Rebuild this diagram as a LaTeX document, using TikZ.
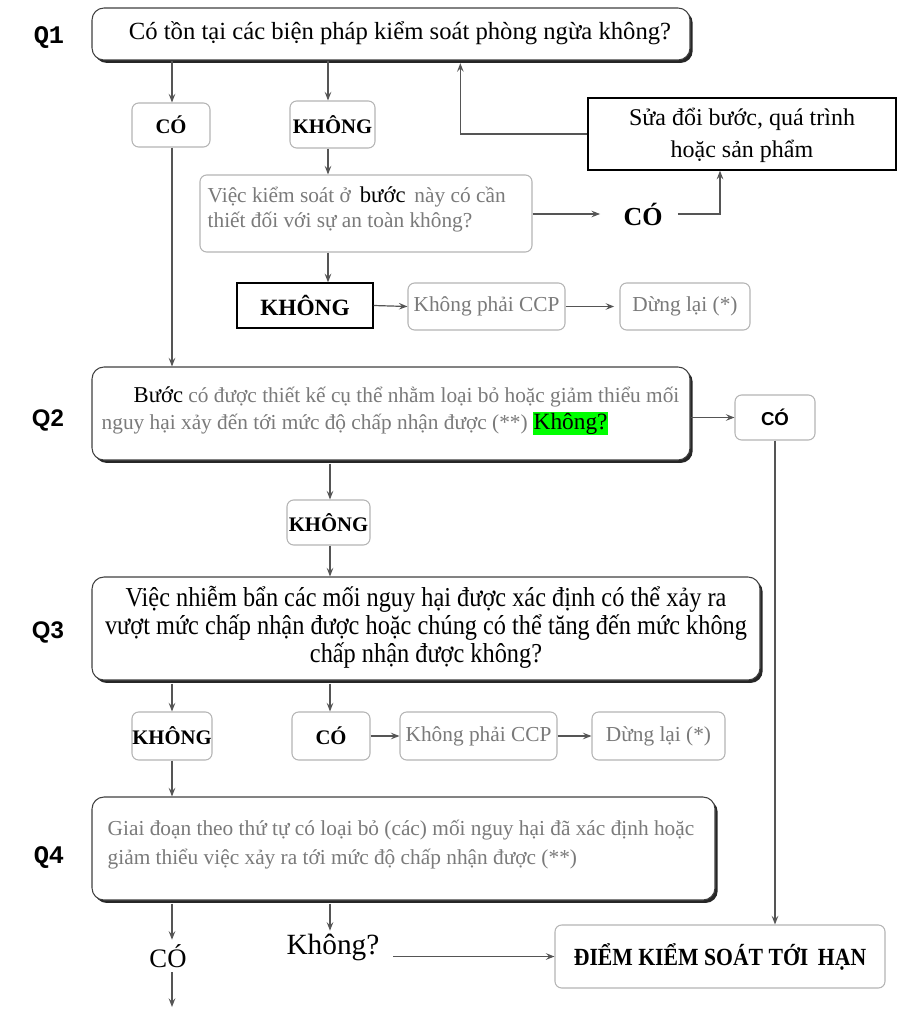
\documentclass[tikz,border=0pt]{standalone}
\usepackage{fontspec}
\setmainfont{Liberation Serif}
\newfontfamily\qsans{Liberation Sans}
\newfontfamily\qmono{Liberation Mono}
\newfontfamily\condserif[FakeStretch=0.89]{Liberation Serif}
\newfontfamily\condbold[FakeStretch=0.88]{Liberation Serif}
\usetikzlibrary{arrows.meta,shadows,fit}
\definecolor{gtext}{HTML}{7A7A7A}
\definecolor{gline}{HTML}{B4B4B4}
\definecolor{arrc}{HTML}{555555}
\definecolor{hlgreen}{HTML}{00FF00}
\tikzset{
  qbox/.style={draw=black!75, line width=0.8pt, rounded corners=9pt, fill=white, inner sep=0pt,
    drop shadow={shadow xshift=2pt, shadow yshift=-2.2pt, fill=black!85, opacity=1}},
  gbox/.style={draw=gline, line width=0.8pt, rounded corners=5pt, fill=white, inner sep=0pt},
  bbox/.style={draw=black, line width=1pt, fill=white, inner sep=0pt},
  arr/.style={draw=arrc, line width=0.9pt, -{Stealth[length=6.5pt,width=5pt,inset=2.5pt]}},
  bl/.style={font=\fontsize{15.5}{18}\selectfont\bfseries},
  gt/.style={text=gtext, font=\fontsize{16}{22}\selectfont},
  ql/.style={font=\qsans\fontsize{18}{20}\selectfont\bfseries},
}
\begin{document}
\begin{tikzpicture}[x=0.75pt,y=-0.75pt]
\useasboundingbox (0,0) rectangle (897,1009);
% labels
\node[ql,font=\qmono\fontsize{19}{20}\selectfont\bfseries] (lq1) at (49,38) {Q1};
\node[ql] (lq2) at (48,420) {Q2};
\node[ql] (lq3) at (48,632) {Q3};
\node[ql,font=\qmono\fontsize{19}{20}\selectfont\bfseries] (lq4) at (49,858) {Q4};

% Q1
\node[qbox, fit={(92,8) (690,60)}] (Q1) {};
\node[font=\fontsize{18.5}{21}\selectfont] (Q1t) at (400,33) {Có tồn tại các biện pháp kiểm soát phòng ngừa không?};
\node[gbox, fit={(132,103) (210,147)}] (co1) {};
\node[bl] at (co1) {CÓ};
\node[gbox, fit={(290,101) (375,148)}] (kh1) {};
\node[bl] at (kh1) {KHÔNG};
\node[gbox, fit={(200,175) (532,252)}] (q1b) {};
\node[gt, anchor=north west, align=left] (q1bt) at (203,182)
  {Việc kiểm soát ở \,{\color{black}\fontsize{17}{18}\selectfont bước}\, này có cần\\[-3pt] thiết đối với sự an toàn không?};
\node[font=\fontsize{19.5}{20}\selectfont\bfseries, minimum width=52pt, minimum height=20pt] (coyes) at (643,214) {CÓ};
\node[bbox, fit={(588,98) (896,170)}] (mod) {};
\node[align=center, font=\fontsize{18}{24}\selectfont] (modt) at (742,135) {Sửa đổi bước, quá trình\\hoặc sản phẩm};
\node[bbox, fit={(237,283) (373,328)}] (kh1b) {};
\node[font=\fontsize{17.5}{20}\selectfont\bfseries] at (kh1b) {KHÔNG};
\node[gbox, fit={(408,283) (565,330)}] (ncc1) {};
\node[gt] at (ncc1) {Không phải CCP};
\node[gbox, fit={(620,283) (750,330)}] (stop1) {};
\node[gt] at (stop1) {Dừng lại (*)};

% Q2
\node[qbox, fit={(92,367) (690,460)}] (Q2) {};
\node[gt, anchor=north west, align=left] (Q2t) at (97,382)
  {\hspace*{24pt}{\color{black}\fontsize{17}{18}\selectfont Bước} có được thiết kế cụ thể nhằm loại bỏ hoặc giảm thiểu mối\\[-2pt]
   nguy hại xảy đến tới mức độ chấp nhận được (**) {\setlength\fboxsep{0.5pt}\colorbox{hlgreen}{\color{black}\fontsize{17.5}{18}\selectfont Không?}}};
\node[gbox, fit={(735,395) (815,440)}] (co2) {};
\node[font=\qsans\fontsize{14}{16}\selectfont\bfseries] at (co2) {CÓ};
\node[gbox, fit={(287,500) (370,545)}] (kh2) {};
\node[bl] at (kh2) {KHÔNG};

% Q3
\node[qbox, fit={(92,577) (760,680)}] (Q3) {};
\node[align=center, font=\condserif\fontsize{20.5}{21}\selectfont] (Q3t) at (426,627)
  {Việc nhiễm bẩn các mối nguy hại được xác định có thể xảy ra\\
   vượt mức chấp nhận được hoặc chúng có thể tăng đến mức không\\
   chấp nhận được không?};
\node[gbox, fit={(132,712) (212,760)}] (kh3) {};
\node[bl] at (kh3) {KHÔNG};
\node[gbox, fit={(292,712) (370,760)}] (co3) {};
\node[bl] at (co3) {CÓ};
\node[gbox, fit={(400,712) (557,760)}] (ncc2) {};
\node[gt] at (ncc2) {Không phải CCP};
\node[gbox, fit={(592,712) (725,760)}] (stop2) {};
\node[gt] at (stop2) {Dừng lại (*)};

% Q4
\node[qbox, fit={(92,797) (715,900)}] (Q4) {};
\node[gt, anchor=north west, align=left] (Q4t) at (103,815)
  {Giai đoạn theo thứ tự có loại bỏ (các) mối nguy hại đã xác định hoặc\\
   giảm thiểu việc xảy ra tới mức độ chấp nhận được (**)};
\node[font=\fontsize{20}{20}\selectfont, minimum width=45pt, minimum height=30pt] (co4) at (168,956) {CÓ};
\node[font=\fontsize{22}{22}\selectfont, inner sep=2pt] (kh4) at (333,947) {Không?};
\node[gbox, fit={(555,925) (885,988)}] (ccp) {};
\node[font=\condbold\fontsize{18.5}{20}\selectfont\bfseries] at (ccp) {ĐIỂM KIỂM SOÁT TỚI \,HẠN};
\coordinate (endp) at (172,1007);

% connectors
\draw[arr] (Q1.south -| 172,0) -- (co1.north -| 172,0);
\draw[arr] (Q1.south -| 328,0) -- (kh1.north -| 328,0);
\draw[arr] (co1.south -| 172,0) -- (Q2.north -| 172,0);
\draw[arr] (kh1.south -| 328,0) -- (q1b.north -| 328,0);
\draw[arr, shorten >=6pt] (q1b.east |- coyes.west) -- (coyes.west);
\draw[arr] (coyes.east) -| ([xshift=-16.5pt]mod.south);
\draw[arr] (mod.west) -| ([xshift=52pt,yshift=-2pt]Q1.south);
\draw[arr] (q1b.south -| 328,0) -- (kh1b.north -| 328,0);
\draw[arr] (kh1b.east) -- (ncc1.west);
\draw[arr] (ncc1.east) -- ([xshift=-4pt]stop1.west);
\draw[arr] (co2.west -| Q2.east) -- (co2.west);
\draw[arr] (co2.south) -- (ccp.north -| co2.south);
\draw[arr] (Q2.south -| 330,0) ++(0,3) -- (kh2.north -| 330,0);
\draw[arr] (kh2.south -| 330,0) -- (Q3.north -| 330,0);
\draw[arr] (Q3.south -| 172,0) ++(0,3) -- (kh3.north -| 172,0);
\draw[arr] (Q3.south -| 330,0) ++(0,3) -- (co3.north -| 330,0);
\draw[arr] (co3.east) -- (ncc2.west);
\draw[arr] (ncc2.east) -- (stop2.west);
\draw[arr] (kh3.south -| 172,0) -- (Q4.north -| 172,0);
\draw[arr] (Q4.south -| 172,0) ++(0,3) -- ([yshift=-3pt]co4.north -| 172,0);
\draw[arr] ([yshift=3pt]co4.south -| 172,0) -- (endp);
\draw[arr] (Q4.south -| 330,0) ++(0,3) -- (kh4.north -| 330,0);
\draw[arr, shorten <=8pt] (ccp.west -| kh4.east) -- (ccp.west);
\end{tikzpicture}
\end{document}
